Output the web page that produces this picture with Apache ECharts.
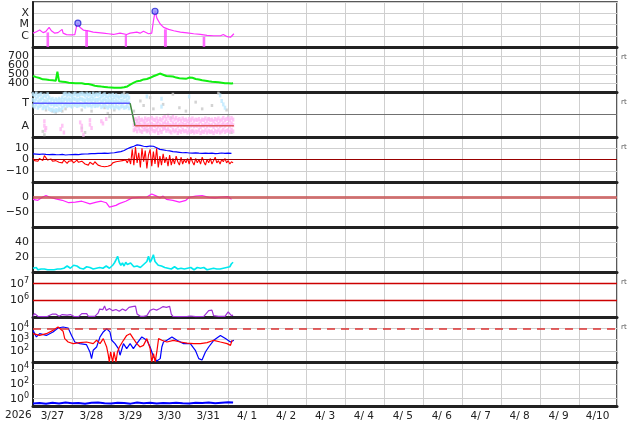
<!DOCTYPE html>
<html><head><meta charset="utf-8">
<script src="https://cdn.jsdelivr.net/npm/echarts@6/dist/echarts.min.js"></script>
<style>html,body{margin:0;padding:0;background:#fff}#c{width:634px;height:424px}</style>
</head><body><div id="c"></div>
<script>
// ---------- labels ----------
const YEAR = '2026';
const DATE_LABELS = ['3/27','3/28','3/29','3/30','3/31','4/ 1','4/ 2','4/ 3','4/ 4','4/ 5','4/ 6','4/ 7','4/ 8','4/ 9','4/10'];
const XRAY_LABELS = {'-4':'X','-5':'M','-6':'C'};
const SPEED_TICKS = [400,500,600,700];
const SECTOR_LABELS = {'1':'T','-1':'A'};
const BZ_TICKS = [10,0,-10];
const DST_TICKS = [0,-50];
const DENS_TICKS = [20,40];
const ELEC_EXP = [6,7];
const PROT_EXP = [2,3,4];
const P9_EXP = [0,2,4];
const RT_LABEL = 'rt';
const RT_PANELS = [1,2,3,6,7];

// ---------- data (time in hours from 3/27 00:00) ----------
const xrayTimes = [0,2.1,4.1,6.2,7.8,9.9,11.3,13.4,15.4,17.9,18.5,20.6,23.7,25.7,26.8,27.6,28.8,30.9,34,37,40.1,43.2,46.3,49.4,53.5,57.6,59.7,63.8,65.8,67.9,71,73,74.1,75.1,76.2,78.2,80.3,83.4,86.5,90.6,94.7,98.8,102.9,107,111.1,115.3,117,119.4,121.4,123.5];
const xrayFlux = [1.7e-6,2.3e-6,3.2e-6,1.9e-6,2.3e-6,5.6e-6,2.8e-6,1.7e-6,1.9e-6,3.7e-6,1.7e-6,1.26e-6,1.2e-6,1.26e-6,7.3e-6,1.3e-5,5.6e-6,3.2e-6,2.7e-6,2.1e-6,1.9e-6,1.7e-6,1.5e-6,1.3e-6,1.7e-6,1.3e-6,1.7e-6,2.1e-6,1.7e-6,2.5e-6,1.5e-6,1.7e-6,2.5e-5,1.5e-4,3.5e-5,1.1e-5,5.6e-6,3.7e-6,2.8e-6,2.1e-6,1.8e-6,1.5e-6,1.3e-6,1.1e-6,1.0e-6,1.0e-6,1.3e-6,8.3e-7,7.4e-7,1.5e-6];
const flareTimes = [27.6,75.0];
const flareFlux = [1.3e-5,1.5e-4];
const eclipseStart = [8.3,32.1,56.4,80.5,104.3];
const eclipseEnd = [9.9,33.8,57.8,82.3,105.9];
const eclipseTop = [2e-6,3.2e-6,1.2e-6,3.7e-6,8.3e-7];

const speed = [478,470,465,472,455,460,441,450,438,445,433,440, 430,436,425,526,420,425,415,418,410,412,404,408, 400,405,396,402,398,392,396,400,390,394,388,385, 380,372,370,367,365,362,360,359,356,358,352,355, 350,348,346,344,347,343,346,350,352,355,362,374, 385,398,405,415,420,428,425,433,440,438,445,452, 458,465,475,482,489,495,505,500,492,485,478,482, 475,470,472,465,460,455,452,448,450,444,446,455, 460,463,458,450,445,441,438,435,430,428,426,422, 420,418,415,418,412,410,408,405,403,400,398,396, 398,395,394,396];

const sectorTimes = [0,59.7,62.7,123.5];
const sectorValues = [1,1,-1,-1];
const cyanHi = [1.8,1.7,1.85,1.6,1.75,1.8,1.5,1.7,1.6,1.8,1.5,1.3,1.4,1.2,1.35,1.25,1.4,1.3,1.5,1.8,1.85,1.7,1.8,1.75,1.6,1.8,1.85,1.7,1.75,1.8,1.85,1.8,1.7,1.85,1.75,1.8,1.6,1.85,1.7,1.8,1.75,1.85,1.6,1.7,1.8,1.65,1.5,1.7,1.6,1.75,1.55,1.7,1.6,1.5,1.65,1.7,1.55,1.6,1.7,1.5];
const cyanMid = [1.3,1.2,1.4,1.1,1.25,1.35,1.0,1.2,1.15,1.3,1.0,0.9,0.95,0.8,0.9,0.85,1.0,0.9,1.1,1.3,1.4,1.25,1.35,1.3,1.2,1.4,1.35,1.25,1.3,1.4,1.35,1.3,1.2,1.4,1.3,1.35,1.2,1.4,1.25,1.3,1.3,1.4,1.15,1.25,1.35,1.2,1.1,1.25,1.15,1.3,1.1,1.25,1.15,1.05,1.2,1.25,1.1,1.15,1.25,1.05];
const cyanLo = [0.8,0.7,0.9,0.6,0.75,0.85,0.55,0.7,0.6,0.8,0.5,0.4,0.45,0.3,0.4,0.35,0.5,0.4,0.6,0.8,0.9,0.75,0.85,0.8,0.7,0.9,0.85,0.75,0.8,0.9,0.85,0.8,0.7,0.9,0.8,0.85,0.7,0.9,0.75,0.8,0.8,0.9,0.65,0.75,0.85,0.7,0.6,0.75,0.65,0.8,0.6,0.75,0.65,0.55,0.7,0.75,0.6,0.65,0.75,0.55];
const cyanExtra = [[70,1.6],[79,1.4],[79,0.7],[96,1.6],[115,1.7],[116,1.2],[117,0.9],[118,0.6]];
const PINK_START = 62;
const pinkHi = [-0.5,-0.4,-0.6,-0.3,-0.5,-0.45,-0.6,-0.35,-0.5,-0.4,-0.55,-0.3,-0.45,-0.5,-0.35,-0.6,-0.4,-0.5,-0.3,-0.15,-0.4,-0.1,-0.35,-0.5,-0.2,-0.45,-0.3,-0.5,-0.4,-0.55,-0.35,-0.5,-0.45,-0.6,-0.4,-0.5,-0.35,-0.55,-0.45,-0.5,-0.4,-0.6,-0.45,-0.5,-0.35,-0.55,-0.4,-0.5,-0.45,-0.6,-0.4,-0.5,-0.35,-0.55,-0.45,-0.3,-0.5,-0.4,-0.35,-0.5,-0.3,-0.45];
const pinkMid = [-0.95,-0.85,-1.0,-0.8,-0.9,-1.05,-0.95,-0.8,-1.0,-0.9,-1.1,-0.85,-0.95,-1.0,-0.8,-1.05,-0.9,-1.0,-0.85,-0.7,-0.9,-0.75,-0.95,-1.0,-0.8,-0.95,-0.85,-1.05,-0.9,-1.0,-0.85,-0.95,-0.9,-1.05,-0.85,-1.0,-0.9,-1.05,-0.95,-1.0,-0.9,-1.1,-0.95,-1.0,-0.85,-1.05,-0.9,-1.0,-0.95,-1.1,-0.9,-1.0,-0.85,-1.05,-0.95,-0.8,-1.0,-0.9,-0.85,-1.0,-0.8,-0.95];
const pinkLo = [-1.4,-1.3,-1.5,-1.25,-1.45,-1.55,-1.35,-1.3,-1.5,-1.4,-1.6,-1.3,-1.45,-1.5,-1.35,-1.65,-1.4,-1.55,-1.3,-1.2,-1.45,-1.3,-1.5,-1.6,-1.35,-1.5,-1.4,-1.65,-1.45,-1.55,-1.35,-1.5,-1.45,-1.6,-1.4,-1.55,-1.45,-1.6,-1.5,-1.55,-1.4,-1.65,-1.5,-1.55,-1.4,-1.6,-1.45,-1.55,-1.5,-1.65,-1.45,-1.55,-1.4,-1.6,-1.5,-1.35,-1.55,-1.45,-1.4,-1.55,-1.35,-1.5];
const pinkEarly = [[7,-0.6],[7,-1.0],[7.5,-1.4],[8,-1.2],[17,-1.3],[18,-1.0],[19,-1.6],[29,-0.7],[30,-1.0],[30,-1.4],[31,-1.8],[35,-0.5],[35,-0.9],[36,-1.2],[42,-0.6],[43,-0.8],[45,-0.4]];
const grayPts = [[2,1.9],[8,0.4],[12,0.3],[14,0.2],[16,0.4],[18,0.3],[20,0.5],[24,0.7],[30,0.4],[36,0.3],[44,0.6],[46,0.1],[47,-0.2],[50,0.4],[56,1.9],[62,0.3],[66,1.2],[68,0.8],[72,1.5],[74,0.5],[80,0.9],[86,1.8],[90,0.6],[94,0.3],[100,1.1],[104,0.5],[110,0.8],[114,1.9],[119,0.4],[6,-1.5],[7,-1.8],[30,-1.2],[32,-1.6],[64,-0.5],[70,-1.4],[85,-0.3],[98,-1.5],[108,-0.4],[120,-0.2],[122,-1.6]];

const bt = [5.0,4.8,4.6,4.9,4.5,4.4,4.6,4.3,4.2,4.5,4.0,4.2, 4.4,4.6,4.3,4.7,4.9,5.0,5.3,5.2,5.5,5.4,5.6,5.5, 5.8,6.0,6.5,7.0,8.0,9.5,10.8,11.8,13.0,12.5,11.8,11.4, 12.0,11.8,10.5,9.0,8.5,8.0,7.6,7.0,6.7,6.4,6.0,6.2, 5.8,5.7,5.9,5.6,5.5,5.7,5.4,5.6,5.3,5.5,5.8,5.4, 5.6,5.5];
const bz = [1,-1,0.5,-1.5,1,0,-1,3.5,1.5,-0.5,-2,0.5, -1.5,-3,-1,0,-2.5,-1,-3,-0.5,-2,-3.5,-1.5,-2, -1,-3,-2,-0.5,-2.5,-3.5,-1.5,-2,-4,-3,-5,-2.5, -3.5,-4.5,-2,-3,-5,-4,-6,-5.5,-6.5,-5,-6,-4.5, -5,-3,-4,-2,-3,-1.5,-2.5,-1,-2,-0.5,-3,1, -4,9,-5,11,-3,6,-7,10,-2,8,-8,4, 9,-6,7,-4,10,-7,3,-5,5,-3,2,-6, 4,-5,1,-4,3,-2,-5,2,-4,0,-3,1, -4,2,-2,-5,1,-3,0,-4,2,-2,-5,0, -3,1,-4,-1,2,-3,-1,-4,0,-2,1,-3, -1,-4,-2,-3];

const dstTimes = [0,3,6,8,10,14,18,22,26,30,35,39,42,45,47,51,53,57,61,65,70,73,76,78,80,82,86,90,94,96,100,104,108,112,116,120,122];
const dstValues = [-8,-11,0,5,0,-6,-11,-19,-17,-14,-23,-17,-14,-19,-34,-28,-22,-14,-3,-1,0,10,3,-3,3,-8,-11,-17,-11,-1,3,5,-1,-3,0,1,-8];

const density = [5,4,6,3,5,4,3,4,5,3,4,3, 4,3,5,4,3,4,6,5,7,8,6,5, 7,9,11,8,6,5,6,4,5,7,9,6, 5,4,6,5,7,6,4,5,6,8,7,5, 6,9,12,16,21,13,9,12,8,13,10,8, 12,13,7,6,8,7,6,8,10,9,14,21, 13,17,23,14,12,9,11,8,7,6,8,5, 6,4,5,7,5,4,6,5,7,4,3,5, 4,6,5,3,4,6,7,5,4,6,5,3, 5,4,6,5,3,4,5,4,3,5,4,6, 5,7,11,13];

const elecTimes = [0,1,2,3,6,9,12,13,14,16,18,19,21,23,25,28,30,31,33,34,38,40,41,43,44,45,47,49,51,53,55,57,59,61,62,63,64,66,68,70,72,74,76,78,80,82,84,85,86,90,95,97,100,105,108,110,111,114,118,120,121,122,123];
const elecFlux = [1.1e5,1.6e5,1.4e5,1.1e5,1.05e5,1.1e5,1.5e5,1.2e5,1.5e5,1.1e5,1.4e5,1.1e5,1.3e5,1.4e5,1.1e5,1.05e5,1.6e5,1.3e5,1.6e5,1.1e5,1.1e5,1.7e5,3e5,2.8e5,4.6e5,2.5e5,3.2e5,2.4e5,2.8e5,2.2e5,3e5,2.4e5,3.8e5,4.2e5,3.5e5,4.5e5,1.5e5,1.1e5,1.1e5,1.2e5,2.5e5,3e5,2.6e5,3.2e5,4.2e5,3.8e5,4.3e5,1.5e5,1.1e5,1.05e5,1.1e5,1.15e5,1.05e5,1.1e5,2.4e5,2.6e5,1.2e5,1.1e5,1.1e5,2e5,1.8e5,1.2e5,1.3e5];

const protBlueTimes = [0,2.1,4.1,8.2,12.3,15.4,18.5,21.6,23.7,25.7,28.8,32.9,35,36,37,39.1,41.2,43.2,45.3,47.3,48.4,50.4,52.5,53.5,55.6,57.6,59.7,61.7,63.8,66.9,70,72,74.1,76.1,78.2,79.2,80.2,82.3,85.4,88.5,92.6,96.7,99.8,101.9,103.9,106,108,111.1,115.2,118.3,121.4,123.5];
const protBlue = [6500,1700,3300,2300,4700,10500,13000,10500,2300,600,430,350,78,20,110,215,1700,4700,9000,4700,850,430,155,40,430,155,430,155,430,1700,850,215,28,12,20,215,600,850,1700,850,430,430,110,20,15,78,215,850,2300,1200,600,850];
const protRedTimes = [0,4.1,8.2,12.3,15.4,18.5,19.5,21.6,24.7,28.8,32.9,37,39.1,41.2,43.2,45.3,46.3,46.9,47.7,49,49.8,51,51.9,53.1,55.6,57.6,59.7,61.7,63.8,65.8,67.9,70,72,73,74.1,75.1,76.1,77.2,79.2,82.3,86.4,90.5,94.7,98.8,102.9,107,111.1,115.2,119.3,121.4,122.4];
const protRed = [3300,2300,3300,6500,13000,5400,1200,600,430,530,600,430,850,430,1200,215,40,10,78,10,78,10,78,215,850,2300,3300,1200,430,215,300,1200,155,10,55,10,78,1200,850,600,850,600,480,430,430,530,850,600,430,300,850];

const p9Times = [0,4,8,12,16,20,24,28,32,36,40,44,48,52,56,60,64,68,72,76,80,84,88,92,96,100,104,108,112,116,120,123];
const p9Values = [0.22,0.25,0.2,0.28,0.22,0.3,0.23,0.25,0.21,0.27,0.3,0.24,0.22,0.28,0.25,0.21,0.3,0.24,0.27,0.22,0.26,0.23,0.28,0.24,0.22,0.27,0.25,0.3,0.24,0.28,0.32,0.3];

// ---------- helpers ----------
const pairs = (t, v, f) => t.map((h, i) => [h, f ? f(v[i]) : v[i]]);
const byHour = (arr, step, start) => arr.map((v, i) => [(start || 0) + i * (step || 1), v]);
const lg = Math.log10;
const FONT = 'DejaVu Sans';
const GRID_COLOR = '#cfcfcf';
const N = 9;
const PANEL_H = 45;

const grids = [], xAxes = [], yAxes = [];
for (let i = 0; i < N; i++) {
  grids.push({left: 33, width: 584, top: 2 + PANEL_H * i, height: i === N - 1 ? 44 : PANEL_H,
    show: true, borderColor: '#222', borderWidth: 1.5});
  xAxes.push({type: 'value', gridIndex: i, min: 0, max: 359, interval: 24,
    axisLine: {show: true, onZero: false, lineStyle: {color: '#222', width: 3}},
    axisTick: {show: false}, axisLabel: {show: false},
    splitLine: {show: true, lineStyle: {color: GRID_COLOR, width: 1}}});
}
xAxes.push({type: 'category', gridIndex: N - 1, data: DATE_LABELS, boundaryGap: true, position: 'bottom',
  axisLine: {show: false}, axisTick: {show: false}, splitLine: {show: false},
  axisLabel: {interval: 0, margin: 5, fontSize: 10.5, fontFamily: FONT, color: '#222'}});

const supRich = {s: {fontSize: 8, fontFamily: FONT, color: '#222', verticalAlign: 'top', lineHeight: 8}};
function yAx(i, min, max, interval, formatter, split, extra) {
  return Object.assign({type: 'value', gridIndex: i, min: min, max: max, interval: interval,
    axisLine: {show: true, onZero: false, lineStyle: {color: '#222', width: 2}},
    axisTick: {show: false},
    axisLabel: {formatter: formatter, margin: 4, fontSize: 11, fontFamily: FONT, color: '#222', lineHeight: 14, rich: supRich,
      showMinLabel: true, showMaxLabel: true},
    splitLine: {show: split, lineStyle: {color: GRID_COLOR, width: 1}}}, extra || {});
}
const expFmt = list => v => list.indexOf(Math.round(v * 1000) / 1000) >= 0 ? '10{s|' + v + '}' : '';
const numFmt = list => v => list.indexOf(v) >= 0 ? (v < 0 ? '\u2212' + (-v) : String(v)) : '';

yAxes.push(yAx(0, -7, -3, 1, v => XRAY_LABELS[String(v)] || '', true));
yAxes.push(yAx(1, 300, 800, 100, numFmt(SPEED_TICKS), true));
yAxes.push(yAx(2, -2, 2, 1, v => SECTOR_LABELS[String(v)] || '', false));
yAxes.push(yAx(3, -20, 20, 10, numFmt(BZ_TICKS), true));
yAxes.push(yAx(4, -100, 50, 50, numFmt(DST_TICKS), true));
yAxes.push(yAx(5, 0, 60, 20, numFmt(DENS_TICKS), true));
yAxes.push(yAx(6, 5, lg(5e7), 1, expFmt(ELEC_EXP), true));
yAxes.push(yAx(7, 1, 5, 1, expFmt(PROT_EXP), true));
yAxes.push(yAx(8, -1, 5, 1, expFmt(P9_EXP), false));

const mline = (vals, style) => ({silent: true, symbol: 'none', animation: false, label: {show: false},
  lineStyle: style, data: vals.map(v => ({yAxis: v}))});
const line = (i, data, color, width, extra) => Object.assign({type: 'line', xAxisIndex: i, yAxisIndex: i, data: data,
  showSymbol: false, symbol: 'none', lineStyle: {color: color, width: width}, itemStyle: {color: color}, animation: false}, extra || {});
const scat = (i, data, color, size, extra) => Object.assign({type: 'scatter', xAxisIndex: i, yAxisIndex: i, data: data,
  symbol: 'rect', symbolSize: size, itemStyle: {color: color}, animation: false, silent: true}, extra || {});

const series = [];
// 1: X-ray
series.push(line(0, pairs(xrayTimes, xrayFlux, lg), '#ff33ff', 1.2, {
  markArea: {silent: true, itemStyle: {color: 'rgba(255,70,255,0.8)'},
    data: eclipseStart.map((s, k) => [{xAxis: s, yAxis: -7}, {xAxis: eclipseEnd[k], yAxis: lg(eclipseTop[k])}])}}));
series.push({type: 'scatter', xAxisIndex: 0, yAxisIndex: 0, data: pairs(flareTimes, flareFlux, lg), symbol: 'circle', symbolSize: 6,
  itemStyle: {color: '#8c8cff', borderColor: '#2020d0', borderWidth: 1.2}, z: 5, animation: false});
// 2: speed
series.push(line(1, byHour(speed), '#11ee11', 2));
// 3: sector
series.push(scat(2, grayPts, '#c8c8c8', [2.5, 3]));
series.push(scat(2, byHour(cyanHi), '#bde9ff', [2.5, 4]));
series.push(scat(2, byHour(cyanMid), '#bde9ff', [2.5, 4]));
series.push(scat(2, byHour(cyanLo), '#bde9ff', [2.5, 4]));
series.push(scat(2, cyanExtra, '#bde9ff', [2.5, 4]));
series.push(scat(2, byHour(pinkHi, 1, PINK_START), '#ffb6f2', [2.5, 4]));
series.push(scat(2, byHour(pinkMid, 1, PINK_START), '#ffb6f2', [2.5, 4]));
series.push(scat(2, byHour(pinkLo, 1, PINK_START), '#ffb6f2', [2.5, 4]));
series.push(scat(2, pinkEarly, '#ffb6f2', [2.5, 4]));
series.push(line(2, [], '#777', 1, {markLine: mline([0], {color: '#707070', width: 1.2, type: 'solid'})}));
const sectorColors = ['#5a5aff', '#3f8a3f', '#e05a5a'];
for (let k = 0; k < sectorTimes.length - 1; k++) {
  series.push(line(2, [[sectorTimes[k], sectorValues[k]], [sectorTimes[k + 1], sectorValues[k + 1]]], sectorColors[k], 1.5, {z: 4}));
}
// 4: Bt / Bz
series.push(line(3, byHour(bt, 2), '#0000ff', 1.2));
series.push(line(3, byHour(bz), '#ff0000', 1.1, {markLine: mline([0], {color: '#990000', width: 1.2, type: 'solid'})}));
// 5: Dst
series.push(line(4, pairs(dstTimes, dstValues), '#ff22ff', 1.2, {markLine: mline([0], {color: 'rgba(200,80,80,0.75)', width: 3, type: 'solid'})}));
// 6: density
series.push(line(5, byHour(density), '#00e8ee', 1.6));
// 7: electrons
series.push(line(6, pairs(elecTimes, elecFlux, lg), '#a030d8', 1.2, {markLine: mline([6, 7], {color: '#cc0000', width: 1.3, type: 'solid'})}));
// 8: protons
series.push(line(7, pairs(protBlueTimes, protBlue, lg), '#0000ff', 1.2, {markLine: mline([4], {color: '#dd3333', width: 1.6, type: [8, 6]})}));
series.push(line(7, pairs(protRedTimes, protRed, lg), '#ff0000', 1.2));
// 9
series.push(line(8, pairs(p9Times, p9Values, lg), '#0000ff', 2, {markLine: mline(P9_EXP, {color: GRID_COLOR, width: 1, type: 'solid'})}));

const graphics = [{type: 'text', left: 5, top: 410, silent: true,
  style: {text: YEAR, font: '10.5px "DejaVu Sans"', fill: '#222'}}];
RT_PANELS.forEach(p => graphics.push({type: 'text', left: 621, top: 2 + PANEL_H * p + 7, silent: true,
  style: {text: RT_LABEL, font: '7px "DejaVu Sans"', fill: '#555'}}));

const chart = echarts.init(document.getElementById('c'), null, {renderer: 'canvas'});
chart.setOption({animation: false, backgroundColor: '#fff', grid: grids, xAxis: xAxes, yAxis: yAxes, series: series, graphic: graphics});
</script></body></html>
